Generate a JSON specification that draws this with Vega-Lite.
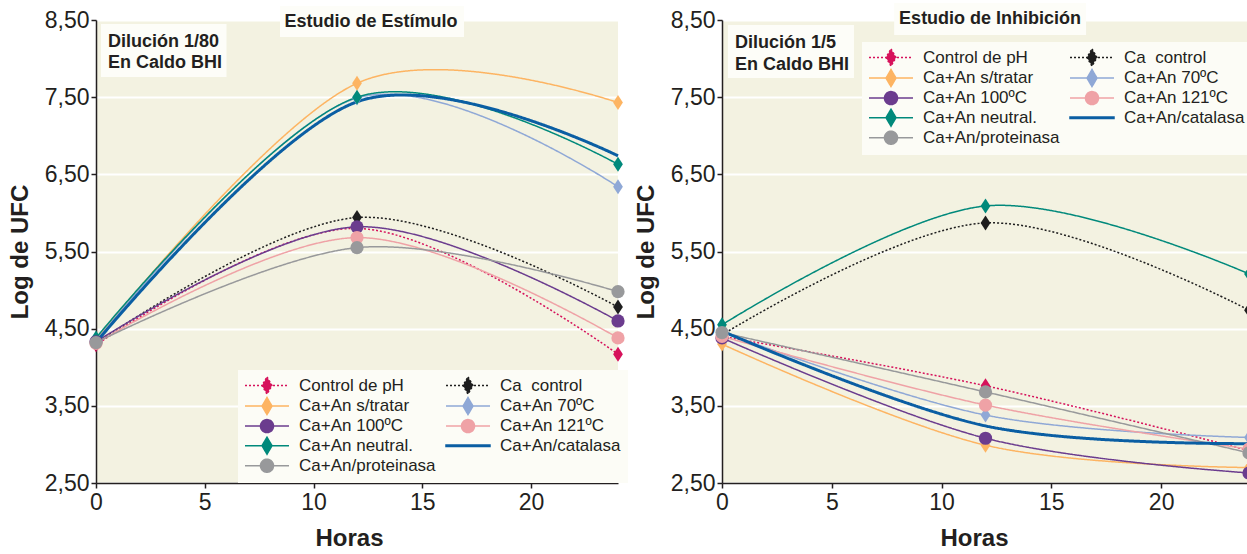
{
  "$schema": "https://vega.github.io/schema/vega-lite/v6.json",
  "autosize": {"type": "pad"},
  "padding": {"left": 8, "top": 3, "right": 0, "bottom": 0},
  "bounds": "flush",
  "spacing": 104,
  "background": "white",
  "datasets": {
    "estimulo": [
      {"serie": "Control de pH", "h": 0, "v": 4.29}, {"serie": "Control de pH", "h": 12, "v": 5.80}, {"serie": "Control de pH", "h": 24, "v": 4.17},
      {"serie": "Ca  control", "h": 0, "v": 4.31}, {"serie": "Ca  control", "h": 12, "v": 5.94}, {"serie": "Ca  control", "h": 24, "v": 4.78},
      {"serie": "Ca+An s/tratar", "h": 0, "v": 4.36}, {"serie": "Ca+An s/tratar", "h": 12, "v": 7.68}, {"serie": "Ca+An s/tratar", "h": 24, "v": 7.43},
      {"serie": "Ca+An 70ºC", "h": 0, "v": 4.34}, {"serie": "Ca+An 70ºC", "h": 12, "v": 7.49}, {"serie": "Ca+An 70ºC", "h": 24, "v": 6.34},
      {"serie": "Ca+An 100ºC", "h": 0, "v": 4.33}, {"serie": "Ca+An 100ºC", "h": 12, "v": 5.82}, {"serie": "Ca+An 100ºC", "h": 24, "v": 4.60},
      {"serie": "Ca+An 121ºC", "h": 0, "v": 4.31}, {"serie": "Ca+An 121ºC", "h": 12, "v": 5.68}, {"serie": "Ca+An 121ºC", "h": 24, "v": 4.38},
      {"serie": "Ca+An neutral.", "h": 0, "v": 4.38}, {"serie": "Ca+An neutral.", "h": 12, "v": 7.50}, {"serie": "Ca+An neutral.", "h": 24, "v": 6.63},
      {"serie": "Ca+An/proteinasa", "h": 0, "v": 4.32}, {"serie": "Ca+An/proteinasa", "h": 12, "v": 5.55}, {"serie": "Ca+An/proteinasa", "h": 24, "v": 4.98},
      {"serie": "Ca+An/catalasa", "h": 0, "v": 4.32}, {"serie": "Ca+An/catalasa", "h": 12, "v": 7.44}, {"serie": "Ca+An/catalasa", "h": 24, "v": 6.74}
    ],
    "inhibicion": [
      {"serie": "Control de pH", "h": 0, "v": 4.40}, {"serie": "Control de pH", "h": 12, "v": 3.76}, {"serie": "Control de pH", "h": 24, "v": 2.92},
      {"serie": "Ca  control", "h": 0, "v": 4.42}, {"serie": "Ca  control", "h": 12, "v": 5.87}, {"serie": "Ca  control", "h": 24, "v": 4.74},
      {"serie": "Ca+An s/tratar", "h": 0, "v": 4.30}, {"serie": "Ca+An s/tratar", "h": 12, "v": 2.99}, {"serie": "Ca+An s/tratar", "h": 24, "v": 2.70},
      {"serie": "Ca+An 70ºC", "h": 0, "v": 4.46}, {"serie": "Ca+An 70ºC", "h": 12, "v": 3.38}, {"serie": "Ca+An 70ºC", "h": 24, "v": 3.09},
      {"serie": "Ca+An 100ºC", "h": 0, "v": 4.38}, {"serie": "Ca+An 100ºC", "h": 12, "v": 3.08}, {"serie": "Ca+An 100ºC", "h": 24, "v": 2.63},
      {"serie": "Ca+An 121ºC", "h": 0, "v": 4.40}, {"serie": "Ca+An 121ºC", "h": 12, "v": 3.51}, {"serie": "Ca+An 121ºC", "h": 24, "v": 2.94},
      {"serie": "Ca+An neutral.", "h": 0, "v": 4.55}, {"serie": "Ca+An neutral.", "h": 12, "v": 6.09}, {"serie": "Ca+An neutral.", "h": 24, "v": 5.21},
      {"serie": "Ca+An/proteinasa", "h": 0, "v": 4.45}, {"serie": "Ca+An/proteinasa", "h": 12, "v": 3.68}, {"serie": "Ca+An/proteinasa", "h": 24, "v": 2.89},
      {"serie": "Ca+An/catalasa", "h": 0, "v": 4.47}, {"serie": "Ca+An/catalasa", "h": 12, "v": 3.24}, {"serie": "Ca+An/catalasa", "h": 24, "v": 3.01}
    ]
  },
  "hconcat": [
    {
      "width": 522,
      "height": 463,
      "data": {"name": "estimulo"},
      "resolve": {
        "axis": {"x": "independent", "y": "independent"},
        "legend": {"color": "independent", "strokeDash": "independent", "fill": "independent", "stroke": "independent", "shape": "independent"}
      },
      "layer": [
        {
          "data": {"values": [{}]},
          "mark": {"type": "rect", "fill": "#FDFDF8"},
          "encoding": {
            "x": {"datum": 8.46, "type": "quantitative", "scale": {"domain": [0, 24], "nice": false, "zero": false}, "axis": null},
            "x2": {"datum": 16.92},
            "y": {"datum": 8.681, "type": "quantitative", "scale": {"domain": [2.5, 8.5], "nice": false, "zero": false}, "axis": null},
            "y2": {"datum": 8.28}
          }
        },
        {
          "data": {"values": [{}]},
          "mark": {"type": "text", "text": "Estudio de Estímulo", "align": "center", "baseline": "middle", "font": "Liberation Sans", "fontSize": 18, "fontWeight": "bold", "color": "#231F20"},
          "encoding": {
            "x": {"datum": 12.64, "type": "quantitative", "scale": {"domain": [0, 24], "nice": false, "zero": false}, "axis": null},
            "y": {"datum": 8.468, "type": "quantitative", "scale": {"domain": [2.5, 8.5], "nice": false, "zero": false}, "axis": null}
          }
        },
        {
          "data": {"values": [{}]},
          "mark": {"type": "rect", "fill": "#FDFDF8"},
          "encoding": {
            "x": {"datum": 0.23, "type": "quantitative", "scale": {"domain": [0, 24], "nice": false, "zero": false}, "axis": null},
            "x2": {"datum": 6.0},
            "y": {"datum": 8.448, "type": "quantitative", "scale": {"domain": [2.5, 8.5], "nice": false, "zero": false}, "axis": null},
            "y2": {"datum": 7.761}
          }
        },
        {
          "data": {"values": [{}]},
          "mark": {"type": "text", "text": ["Dilución 1/80", "En Caldo BHI"], "lineHeight": 21.6, "align": "left", "baseline": "middle", "font": "Liberation Sans", "fontSize": 18, "fontWeight": "bold", "color": "#231F20"},
          "encoding": {
            "x": {"datum": 0.55, "type": "quantitative", "scale": {"domain": [0, 24], "nice": false, "zero": false}, "axis": null},
            "y": {"datum": 8.219, "type": "quantitative", "scale": {"domain": [2.5, 8.5], "nice": false, "zero": false}, "axis": null}
          }
        },
        {
          "mark": {"type": "line", "interpolate": "cardinal"},
          "encoding": {
            "x": {"field": "h", "type": "quantitative", "scale": {"domain": [0, 24], "nice": false, "zero": false}, "axis": {"orient": "bottom", "values": [0, 5, 10, 15, 20], "title": "Horas", "grid": false, "labelFlush": false, "titleX": 253, "labelPadding": 3, "titlePadding": 12}},
            "y": {"field": "v", "type": "quantitative", "scale": {"domain": [2.5, 8.5], "nice": false, "zero": false}, "axis": {"orient": "left", "values": [2.5, 3.5, 4.5, 5.5, 6.5, 7.5, 8.5], "labelExpr": "replace(format(datum.value, '.2f'), '.', ',')", "title": "Log de UFC", "grid": true, "gridColor": "#FFFFFF", "gridWidth": 2, "labelPadding": 2, "titlePadding": 12}},
            "color": {"field": "serie", "type": "nominal", "scale": {"domain": ["Control de pH", "Ca+An s/tratar", "Ca+An 100ºC", "Ca+An neutral.", "Ca+An/proteinasa", "Ca  control", "Ca+An 70ºC", "Ca+An 121ºC", "Ca+An/catalasa"], "range": ["#D6125B", "#FDB462", "#6B3C8E", "#00897B", "#98999B", "#1E1E1E", "#8FA8D6", "#EFA2A6", "#0A5EA3"]}, "legend": null},
            "strokeDash": {"field": "serie", "type": "nominal", "scale": {"domain": ["Control de pH", "Ca+An s/tratar", "Ca+An 100ºC", "Ca+An neutral.", "Ca+An/proteinasa", "Ca  control", "Ca+An 70ºC", "Ca+An 121ºC", "Ca+An/catalasa"], "range": [[2, 2], [1, 0], [1, 0], [1, 0], [1, 0], [2, 2], [1, 0], [1, 0], [1, 0]]}, "legend": null},
            "strokeWidth": {"condition": {"test": "datum.serie === 'Ca+An/catalasa'", "value": 3}, "value": 1.5}
          }
        },
        {
          "transform": [{"filter": "indexof(['Control de pH','Ca  control','Ca+An s/tratar','Ca+An 70ºC','Ca+An neutral.'], datum.serie) >= 0"}],
          "mark": {"type": "point", "shape": "M0,-1L0.65,0L0,1L-0.65,0Z", "filled": true, "opacity": 1, "size": 225, "strokeWidth": 0},
          "encoding": {
            "x": {"field": "h", "type": "quantitative", "scale": {"domain": [0, 24], "nice": false, "zero": false}, "axis": null},
            "y": {"field": "v", "type": "quantitative", "scale": {"domain": [2.5, 8.5], "nice": false, "zero": false}, "axis": null},
            "color": {"field": "serie", "type": "nominal", "scale": {"domain": ["Control de pH", "Ca+An s/tratar", "Ca+An 100ºC", "Ca+An neutral.", "Ca+An/proteinasa", "Ca  control", "Ca+An 70ºC", "Ca+An 121ºC", "Ca+An/catalasa"], "range": ["#D6125B", "#FDB462", "#6B3C8E", "#00897B", "#98999B", "#1E1E1E", "#8FA8D6", "#EFA2A6", "#0A5EA3"]}, "legend": null}
          }
        },
        {
          "transform": [{"filter": "indexof(['Ca+An 100ºC','Ca+An 121ºC','Ca+An/proteinasa'], datum.serie) >= 0"}],
          "mark": {"type": "point", "shape": "circle", "filled": true, "opacity": 1, "size": 175, "strokeWidth": 0},
          "encoding": {
            "x": {"field": "h", "type": "quantitative", "scale": {"domain": [0, 24], "nice": false, "zero": false}, "axis": null},
            "y": {"field": "v", "type": "quantitative", "scale": {"domain": [2.5, 8.5], "nice": false, "zero": false}, "axis": null},
            "color": {"field": "serie", "type": "nominal", "scale": {"domain": ["Control de pH", "Ca+An s/tratar", "Ca+An 100ºC", "Ca+An neutral.", "Ca+An/proteinasa", "Ca  control", "Ca+An 70ºC", "Ca+An 121ºC", "Ca+An/catalasa"], "range": ["#D6125B", "#FDB462", "#6B3C8E", "#00897B", "#98999B", "#1E1E1E", "#8FA8D6", "#EFA2A6", "#0A5EA3"]}, "legend": null}
          }
        },
        {
          "transform": [{"filter": "false"}],
          "mark": {"type": "point", "filled": true, "opacity": 1, "strokeWidth": 1.5},
          "encoding": {
            "x": {"field": "h", "type": "quantitative", "scale": {"domain": [0, 24], "nice": false, "zero": false}, "axis": null},
            "y": {"field": "v", "type": "quantitative", "scale": {"domain": [2.5, 8.5], "nice": false, "zero": false}, "axis": null},
            "fill": {"field": "serie", "type": "nominal", "scale": {"domain": ["Control de pH", "Ca+An s/tratar", "Ca+An 100ºC", "Ca+An neutral.", "Ca+An/proteinasa", "Ca  control", "Ca+An 70ºC", "Ca+An 121ºC", "Ca+An/catalasa"], "range": ["#D6125B", "#FDB462", "#6B3C8E", "#00897B", "#98999B", "#1E1E1E", "#8FA8D6", "#EFA2A6", "#0A5EA3"]}, "legend": {"title": null, "orient": "none", "legendX": 142, "legendY": 350, "columns": 2, "columnPadding": 7, "rowPadding": -2.4, "symbolSize": 196, "symbolStrokeWidth": 1.5, "labelFont": "Liberation Sans", "labelFontSize": 17, "labelColor": "#231F20", "labelOffset": 37, "labelLimit": 300, "labelExpr": "replace(datum.label, '  ', '\u00a0\u00a0')", "padding": 7, "fillColor": "#FCFCF6"}},
            "stroke": {"field": "serie", "type": "nominal", "scale": {"domain": ["Control de pH", "Ca+An s/tratar", "Ca+An 100ºC", "Ca+An neutral.", "Ca+An/proteinasa", "Ca  control", "Ca+An 70ºC", "Ca+An 121ºC", "Ca+An/catalasa"], "range": ["#D6125B", "#FDB462", "#6B3C8E", "#00897B", "#98999B", "#1E1E1E", "#8FA8D6", "#EFA2A6", "#0A5EA3"]}, "legend": {"title": null, "orient": "none", "legendX": 142, "legendY": 350, "columns": 2, "columnPadding": 7, "rowPadding": -2.4, "symbolSize": 196, "symbolStrokeWidth": 1.5, "labelFont": "Liberation Sans", "labelFontSize": 17, "labelColor": "#231F20", "labelOffset": 37, "labelLimit": 300, "labelExpr": "replace(datum.label, '  ', '\u00a0\u00a0')", "padding": 7, "fillColor": "#FCFCF6"}},
            "shape": {"field": "serie", "type": "nominal", "scale": {"domain": ["Control de pH", "Ca+An s/tratar", "Ca+An 100ºC", "Ca+An neutral.", "Ca+An/proteinasa", "Ca  control", "Ca+An 70ºC", "Ca+An 121ºC", "Ca+An/catalasa"], "range": ["M-1.214,0H5.071M1.929,-1.214L2.643,0L1.929,1.214L1.214,0Z", "M-1.214,0H5.071M1.929,-1.214L2.643,0L1.929,1.214L1.214,0Z", "M-1.214,0H5.071M1,0A0.929,0.929,0,1,1,2.858,0A0.929,0.929,0,1,1,1,0Z", "M-1.214,0H5.071M1.929,-1.214L2.643,0L1.929,1.214L1.214,0Z", "M-1.214,0H5.071M1,0A0.929,0.929,0,1,1,2.858,0A0.929,0.929,0,1,1,1,0Z", "M-1.214,0H5.071M1.929,-1.214L2.643,0L1.929,1.214L1.214,0Z", "M-1.214,0H5.071M1.929,-1.214L2.643,0L1.929,1.214L1.214,0Z", "M-1.214,0H5.071M1,0A0.929,0.929,0,1,1,2.858,0A0.929,0.929,0,1,1,1,0Z", "M-1.214,-0.107H5.071V0.107H-1.214Z"]}, "legend": {"title": null, "orient": "none", "legendX": 142, "legendY": 350, "columns": 2, "columnPadding": 7, "rowPadding": -2.4, "symbolSize": 196, "symbolStrokeWidth": 1.5, "labelFont": "Liberation Sans", "labelFontSize": 17, "labelColor": "#231F20", "labelOffset": 37, "labelLimit": 300, "labelExpr": "replace(datum.label, '  ', '\u00a0\u00a0')", "padding": 7, "fillColor": "#FCFCF6"}},
            "strokeDash": {"field": "serie", "type": "nominal", "scale": {"domain": ["Control de pH", "Ca+An s/tratar", "Ca+An 100ºC", "Ca+An neutral.", "Ca+An/proteinasa", "Ca  control", "Ca+An 70ºC", "Ca+An 121ºC", "Ca+An/catalasa"], "range": [[2, 2], [1, 0], [1, 0], [1, 0], [1, 0], [2, 2], [1, 0], [1, 0], [1, 0]]}, "legend": {"title": null, "orient": "none", "legendX": 142, "legendY": 350, "columns": 2, "columnPadding": 7, "rowPadding": -2.4, "symbolSize": 196, "symbolStrokeWidth": 1.5, "labelFont": "Liberation Sans", "labelFontSize": 17, "labelColor": "#231F20", "labelOffset": 37, "labelLimit": 300, "labelExpr": "replace(datum.label, '  ', '\u00a0\u00a0')", "padding": 7, "fillColor": "#FCFCF6"}}
          }
        }
      ]
    },
    {
      "width": 527,
      "height": 463,
      "data": {"name": "inhibicion"},
      "resolve": {
        "axis": {"x": "independent", "y": "independent"},
        "legend": {"color": "independent", "strokeDash": "independent", "fill": "independent", "stroke": "independent", "shape": "independent"}
      },
      "layer": [
        {
          "data": {"values": [{}]},
          "mark": {"type": "rect", "fill": "#FDFDF8"},
          "encoding": {
            "x": {"datum": 7.84, "type": "quantitative", "scale": {"domain": [0, 24], "nice": false, "zero": false}, "axis": null},
            "x2": {"datum": 16.58},
            "y": {"datum": 8.72, "type": "quantitative", "scale": {"domain": [2.5, 8.5], "nice": false, "zero": false}, "axis": null},
            "y2": {"datum": 8.306}
          }
        },
        {
          "data": {"values": [{}]},
          "mark": {"type": "text", "text": "Estudio de Inhibición", "align": "center", "baseline": "middle", "font": "Liberation Sans", "fontSize": 18, "fontWeight": "bold", "color": "#231F20"},
          "encoding": {
            "x": {"datum": 12.21, "type": "quantitative", "scale": {"domain": [0, 24], "nice": false, "zero": false}, "axis": null},
            "y": {"datum": 8.509, "type": "quantitative", "scale": {"domain": [2.5, 8.5], "nice": false, "zero": false}, "axis": null}
          }
        },
        {
          "data": {"values": [{}]},
          "mark": {"type": "rect", "fill": "#FDFDF8"},
          "encoding": {
            "x": {"datum": 0.27, "type": "quantitative", "scale": {"domain": [0, 24], "nice": false, "zero": false}, "axis": null},
            "x2": {"datum": 6.01},
            "y": {"datum": 8.435, "type": "quantitative", "scale": {"domain": [2.5, 8.5], "nice": false, "zero": false}, "axis": null},
            "y2": {"datum": 7.748}
          }
        },
        {
          "data": {"values": [{}]},
          "mark": {"type": "text", "text": ["Dilución 1/5", "En Caldo BHI"], "lineHeight": 21.6, "align": "left", "baseline": "middle", "font": "Liberation Sans", "fontSize": 18, "fontWeight": "bold", "color": "#231F20"},
          "encoding": {
            "x": {"datum": 0.59, "type": "quantitative", "scale": {"domain": [0, 24], "nice": false, "zero": false}, "axis": null},
            "y": {"datum": 8.198, "type": "quantitative", "scale": {"domain": [2.5, 8.5], "nice": false, "zero": false}, "axis": null}
          }
        },
        {
          "mark": {"type": "line", "interpolate": "cardinal"},
          "encoding": {
            "x": {"field": "h", "type": "quantitative", "scale": {"domain": [0, 24], "nice": false, "zero": false}, "axis": {"orient": "bottom", "values": [0, 5, 10, 15, 20], "title": "Horas", "grid": false, "labelFlush": false, "titleX": 252, "labelPadding": 3, "titlePadding": 12}},
            "y": {"field": "v", "type": "quantitative", "scale": {"domain": [2.5, 8.5], "nice": false, "zero": false}, "axis": {"orient": "left", "values": [2.5, 3.5, 4.5, 5.5, 6.5, 7.5, 8.5], "labelExpr": "replace(format(datum.value, '.2f'), '.', ',')", "title": "Log de UFC", "grid": true, "gridColor": "#FFFFFF", "gridWidth": 2, "labelPadding": 2, "titlePadding": 12}},
            "color": {"field": "serie", "type": "nominal", "scale": {"domain": ["Control de pH", "Ca+An s/tratar", "Ca+An 100ºC", "Ca+An neutral.", "Ca+An/proteinasa", "Ca  control", "Ca+An 70ºC", "Ca+An 121ºC", "Ca+An/catalasa"], "range": ["#D6125B", "#FDB462", "#6B3C8E", "#00897B", "#98999B", "#1E1E1E", "#8FA8D6", "#EFA2A6", "#0A5EA3"]}, "legend": null},
            "strokeDash": {"field": "serie", "type": "nominal", "scale": {"domain": ["Control de pH", "Ca+An s/tratar", "Ca+An 100ºC", "Ca+An neutral.", "Ca+An/proteinasa", "Ca  control", "Ca+An 70ºC", "Ca+An 121ºC", "Ca+An/catalasa"], "range": [[2, 2], [1, 0], [1, 0], [1, 0], [1, 0], [2, 2], [1, 0], [1, 0], [1, 0]]}, "legend": null},
            "strokeWidth": {"condition": {"test": "datum.serie === 'Ca+An/catalasa'", "value": 3}, "value": 1.5}
          }
        },
        {
          "transform": [{"filter": "indexof(['Control de pH','Ca  control','Ca+An s/tratar','Ca+An 70ºC','Ca+An neutral.'], datum.serie) >= 0"}],
          "mark": {"type": "point", "shape": "M0,-1L0.65,0L0,1L-0.65,0Z", "filled": true, "opacity": 1, "size": 225, "strokeWidth": 0},
          "encoding": {
            "x": {"field": "h", "type": "quantitative", "scale": {"domain": [0, 24], "nice": false, "zero": false}, "axis": null},
            "y": {"field": "v", "type": "quantitative", "scale": {"domain": [2.5, 8.5], "nice": false, "zero": false}, "axis": null},
            "color": {"field": "serie", "type": "nominal", "scale": {"domain": ["Control de pH", "Ca+An s/tratar", "Ca+An 100ºC", "Ca+An neutral.", "Ca+An/proteinasa", "Ca  control", "Ca+An 70ºC", "Ca+An 121ºC", "Ca+An/catalasa"], "range": ["#D6125B", "#FDB462", "#6B3C8E", "#00897B", "#98999B", "#1E1E1E", "#8FA8D6", "#EFA2A6", "#0A5EA3"]}, "legend": null}
          }
        },
        {
          "transform": [{"filter": "indexof(['Ca+An 100ºC','Ca+An 121ºC','Ca+An/proteinasa'], datum.serie) >= 0"}],
          "mark": {"type": "point", "shape": "circle", "filled": true, "opacity": 1, "size": 175, "strokeWidth": 0},
          "encoding": {
            "x": {"field": "h", "type": "quantitative", "scale": {"domain": [0, 24], "nice": false, "zero": false}, "axis": null},
            "y": {"field": "v", "type": "quantitative", "scale": {"domain": [2.5, 8.5], "nice": false, "zero": false}, "axis": null},
            "color": {"field": "serie", "type": "nominal", "scale": {"domain": ["Control de pH", "Ca+An s/tratar", "Ca+An 100ºC", "Ca+An neutral.", "Ca+An/proteinasa", "Ca  control", "Ca+An 70ºC", "Ca+An 121ºC", "Ca+An/catalasa"], "range": ["#D6125B", "#FDB462", "#6B3C8E", "#00897B", "#98999B", "#1E1E1E", "#8FA8D6", "#EFA2A6", "#0A5EA3"]}, "legend": null}
          }
        },
        {
          "transform": [{"filter": "false"}],
          "mark": {"type": "point", "filled": true, "opacity": 1, "strokeWidth": 1.5},
          "encoding": {
            "x": {"field": "h", "type": "quantitative", "scale": {"domain": [0, 24], "nice": false, "zero": false}, "axis": null},
            "y": {"field": "v", "type": "quantitative", "scale": {"domain": [2.5, 8.5], "nice": false, "zero": false}, "axis": null},
            "fill": {"field": "serie", "type": "nominal", "scale": {"domain": ["Control de pH", "Ca+An s/tratar", "Ca+An 100ºC", "Ca+An neutral.", "Ca+An/proteinasa", "Ca  control", "Ca+An 70ºC", "Ca+An 121ºC", "Ca+An/catalasa"], "range": ["#D6125B", "#FDB462", "#6B3C8E", "#00897B", "#98999B", "#1E1E1E", "#8FA8D6", "#EFA2A6", "#0A5EA3"]}, "legend": {"title": null, "orient": "none", "legendX": 140, "legendY": 22, "columns": 2, "columnPadding": 7, "rowPadding": -2.4, "symbolSize": 196, "symbolStrokeWidth": 1.5, "labelFont": "Liberation Sans", "labelFontSize": 17, "labelColor": "#231F20", "labelOffset": 37, "labelLimit": 300, "labelExpr": "replace(datum.label, '  ', '\u00a0\u00a0')", "padding": 7, "fillColor": "#FCFCF6"}},
            "stroke": {"field": "serie", "type": "nominal", "scale": {"domain": ["Control de pH", "Ca+An s/tratar", "Ca+An 100ºC", "Ca+An neutral.", "Ca+An/proteinasa", "Ca  control", "Ca+An 70ºC", "Ca+An 121ºC", "Ca+An/catalasa"], "range": ["#D6125B", "#FDB462", "#6B3C8E", "#00897B", "#98999B", "#1E1E1E", "#8FA8D6", "#EFA2A6", "#0A5EA3"]}, "legend": {"title": null, "orient": "none", "legendX": 140, "legendY": 22, "columns": 2, "columnPadding": 7, "rowPadding": -2.4, "symbolSize": 196, "symbolStrokeWidth": 1.5, "labelFont": "Liberation Sans", "labelFontSize": 17, "labelColor": "#231F20", "labelOffset": 37, "labelLimit": 300, "labelExpr": "replace(datum.label, '  ', '\u00a0\u00a0')", "padding": 7, "fillColor": "#FCFCF6"}},
            "shape": {"field": "serie", "type": "nominal", "scale": {"domain": ["Control de pH", "Ca+An s/tratar", "Ca+An 100ºC", "Ca+An neutral.", "Ca+An/proteinasa", "Ca  control", "Ca+An 70ºC", "Ca+An 121ºC", "Ca+An/catalasa"], "range": ["M-1.214,0H5.071M1.929,-1.214L2.643,0L1.929,1.214L1.214,0Z", "M-1.214,0H5.071M1.929,-1.214L2.643,0L1.929,1.214L1.214,0Z", "M-1.214,0H5.071M1,0A0.929,0.929,0,1,1,2.858,0A0.929,0.929,0,1,1,1,0Z", "M-1.214,0H5.071M1.929,-1.214L2.643,0L1.929,1.214L1.214,0Z", "M-1.214,0H5.071M1,0A0.929,0.929,0,1,1,2.858,0A0.929,0.929,0,1,1,1,0Z", "M-1.214,0H5.071M1.929,-1.214L2.643,0L1.929,1.214L1.214,0Z", "M-1.214,0H5.071M1.929,-1.214L2.643,0L1.929,1.214L1.214,0Z", "M-1.214,0H5.071M1,0A0.929,0.929,0,1,1,2.858,0A0.929,0.929,0,1,1,1,0Z", "M-1.214,-0.107H5.071V0.107H-1.214Z"]}, "legend": {"title": null, "orient": "none", "legendX": 140, "legendY": 22, "columns": 2, "columnPadding": 7, "rowPadding": -2.4, "symbolSize": 196, "symbolStrokeWidth": 1.5, "labelFont": "Liberation Sans", "labelFontSize": 17, "labelColor": "#231F20", "labelOffset": 37, "labelLimit": 300, "labelExpr": "replace(datum.label, '  ', '\u00a0\u00a0')", "padding": 7, "fillColor": "#FCFCF6"}},
            "strokeDash": {"field": "serie", "type": "nominal", "scale": {"domain": ["Control de pH", "Ca+An s/tratar", "Ca+An 100ºC", "Ca+An neutral.", "Ca+An/proteinasa", "Ca  control", "Ca+An 70ºC", "Ca+An 121ºC", "Ca+An/catalasa"], "range": [[2, 2], [1, 0], [1, 0], [1, 0], [1, 0], [2, 2], [1, 0], [1, 0], [1, 0]]}, "legend": {"title": null, "orient": "none", "legendX": 140, "legendY": 22, "columns": 2, "columnPadding": 7, "rowPadding": -2.4, "symbolSize": 196, "symbolStrokeWidth": 1.5, "labelFont": "Liberation Sans", "labelFontSize": 17, "labelColor": "#231F20", "labelOffset": 37, "labelLimit": 300, "labelExpr": "replace(datum.label, '  ', '\u00a0\u00a0')", "padding": 7, "fillColor": "#FCFCF6"}}
          }
        }
      ]
    }
  ],
  "config": {
    "font": "Liberation Sans",
    "view": {"fill": "#F3F2E1", "stroke": null},
    "axis": {
      "labelFont": "Liberation Sans",
      "labelFontSize": 23,
      "labelColor": "#231F20",
      "titleFont": "Liberation Sans",
      "titleFontSize": 24,
      "titleFontWeight": "bold",
      "titleColor": "#231F20",
      "domainColor": "#231F20",
      "domainWidth": 1.5,
      "tickColor": "#231F20",
      "tickWidth": 1.5,
      "tickSize": 5
    }
  }
}
